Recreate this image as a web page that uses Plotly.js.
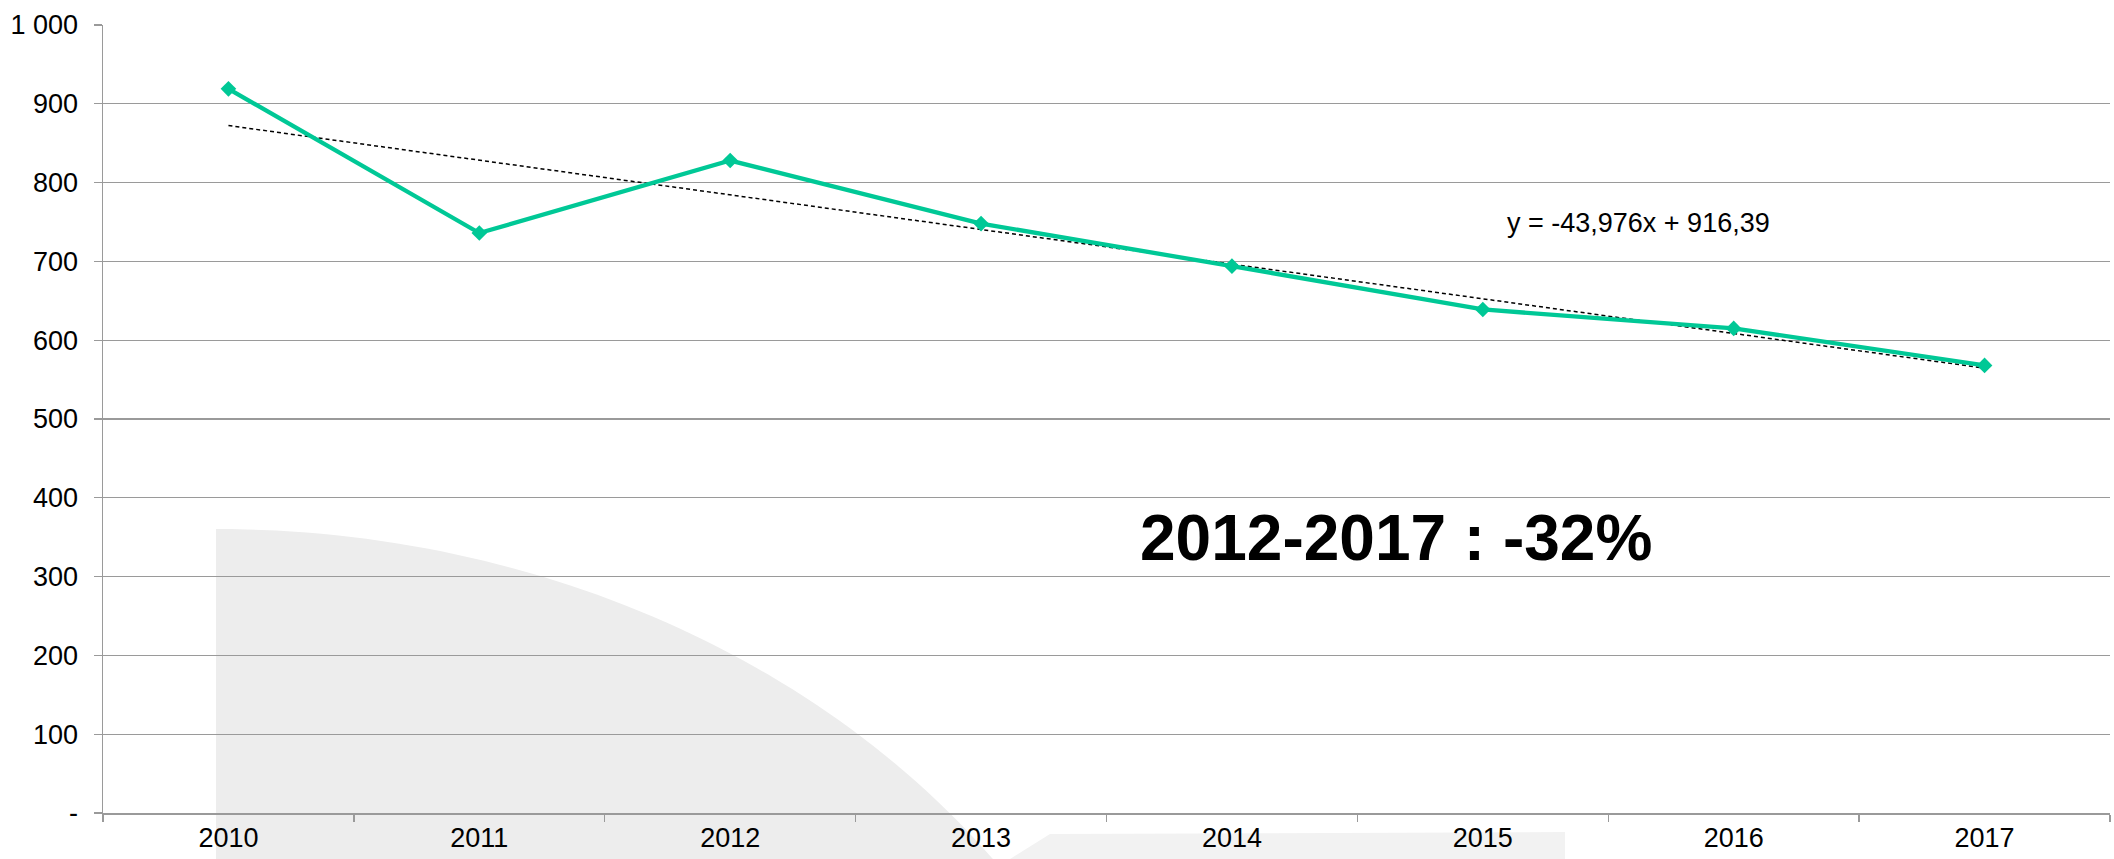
<!DOCTYPE html>
<html>
<head>
<meta charset="utf-8">
<script src="https://cdn.plot.ly/plotly-3.0.1.min.js"></script>
<style>
  html, body { margin: 0; padding: 0; background: #ffffff; }
  #chart { width: 2114px; height: 859px; }
</style>
</head>
<body>
<div id="chart"></div>
<script>
// ---- Data ----
const years = ["2010", "2011", "2012", "2013", "2014", "2015", "2016", "2017"];
const values = [919, 736, 828, 748, 694, 639, 615, 568];
const yTickValues = [0, 100, 200, 300, 400, 500, 600, 700, 800, 900, 1000];
const yTickLabels = ["-", "100", "200", "300", "400", "500", "600", "700", "800", "900", "1 000"];
// Trend line coefficients (as printed on the chart)
const trendSlope = -43.976;
const trendIntercept = 916.39;
const trendLabel = "y = -43,976x + 916,39";
const highlightLabel = "2012-2017 : -32%";

// ---- Layout geometry (pixels) ----
const W = 2114, H = 859;
const M = { l: 103, r: 4, t: 25, b: 46 };
const PW = W - M.l - M.r, PH = H - M.t - M.b;
const px2paperX = (px) => (px - M.l) / PW;
const px2paperY = (py) => (H - M.b - py) / PH;

// Trend line computed from coefficients for x = 1..n
const trendY = years.map((_, i) => trendSlope * (i + 1) + trendIntercept);

// Background watermark (decorative quarter-ellipse)
function ellipsePath() {
  const cx = 216, cy = 1329, a = 960, b = 800, topY = 529;
  let d = `M ${px2paperX(cx)},${px2paperY(H)} L ${px2paperX(cx)},${px2paperY(topY)}`;
  const steps = 60;
  const endAngle = Math.asin((cy - H) / b);
  for (let k = 1; k <= steps; k++) {
    const t = Math.PI / 2 - (Math.PI / 2 - endAngle) * k / steps;
    const x = cx + a * Math.cos(t);
    const y = cy - b * Math.sin(t);
    d += ` L ${px2paperX(x)},${px2paperY(y)}`;
  }
  d += " Z";
  return d;
}
function bandPath() {
  const pts = [[1010, 859], [1050, 834], [1565, 832], [1565, 859]];
  return "M " + pts.map(p => `${px2paperX(p[0])},${px2paperY(p[1])}`).join(" L ") + " Z";
}

const fontFamily = '"Liberation Sans", Arial, Helvetica, sans-serif';
const gridColor = "#9a9a9a";
const labelSize = 27;

const traces = [
  {
    type: "scatter",
    mode: "lines",
    x: years,
    y: trendY,
    line: { color: "#000000", width: 1.5, dash: "4px,3px" },
    hoverinfo: "skip",
    showlegend: false
  },
  {
    type: "scatter",
    mode: "lines+markers",
    x: years,
    y: values,
    line: { color: "#00C896", width: 4.3 },
    marker: { symbol: "diamond", size: 12, color: "#00C896" },
    showlegend: false
  }
];

const layout = {
  width: W,
  height: H,
  margin: M,
  paper_bgcolor: "#ffffff",
  plot_bgcolor: "rgba(0,0,0,0)",
  font: { family: fontFamily, size: labelSize, color: "#000000" },
  showlegend: false,
  xaxis: {
    type: "category",
    range: [-0.5, 7.5],
    tickson: "boundaries",
    ticks: "outside",
    ticklen: 7,
    tickwidth: 1.3,
    tickcolor: gridColor,
    showline: true,
    linecolor: gridColor,
    linewidth: 1.5,
    showgrid: false,
    tickfont: { family: fontFamily, size: labelSize, color: "#000000" },
    fixedrange: true
  },
  yaxis: {
    range: [0, 1000],
    tickmode: "array",
    tickvals: yTickValues,
    ticktext: yTickLabels,
    ticks: "outside",
    ticklen: 8,
    tickwidth: 1.3,
    tickcolor: gridColor,
    showline: true,
    linecolor: gridColor,
    linewidth: 1.5,
    showgrid: true,
    gridcolor: gridColor,
    gridwidth: 1.3,
    zeroline: false,
    ticklabelstandoff: 10,
    tickfont: { family: fontFamily, size: labelSize, color: "#000000" },
    fixedrange: true
  },
  shapes: [
    {
      type: "path", xref: "paper", yref: "paper", layer: "below",
      path: ellipsePath(), fillcolor: "#ededed", line: { width: 0 }
    },
    {
      type: "path", xref: "paper", yref: "paper", layer: "below",
      path: bandPath(), fillcolor: "#f2f2f2", line: { width: 0 }
    }
  ],
  annotations: [
    {
      xref: "paper", yref: "paper",
      x: px2paperX(1638), y: px2paperY(223),
      xanchor: "center", yanchor: "middle",
      text: trendLabel, showarrow: false,
      font: { family: fontFamily, size: 27, color: "#000000" }
    },
    {
      xref: "paper", yref: "paper",
      x: px2paperX(1396), y: px2paperY(538),
      xanchor: "center", yanchor: "middle",
      text: "<b>" + highlightLabel + "</b>", showarrow: false,
      font: { family: fontFamily, size: 64, color: "#000000" }
    }
  ]
};

Plotly.newPlot("chart", traces, layout, { displayModeBar: false, staticPlot: true });
</script>
</body>
</html>
